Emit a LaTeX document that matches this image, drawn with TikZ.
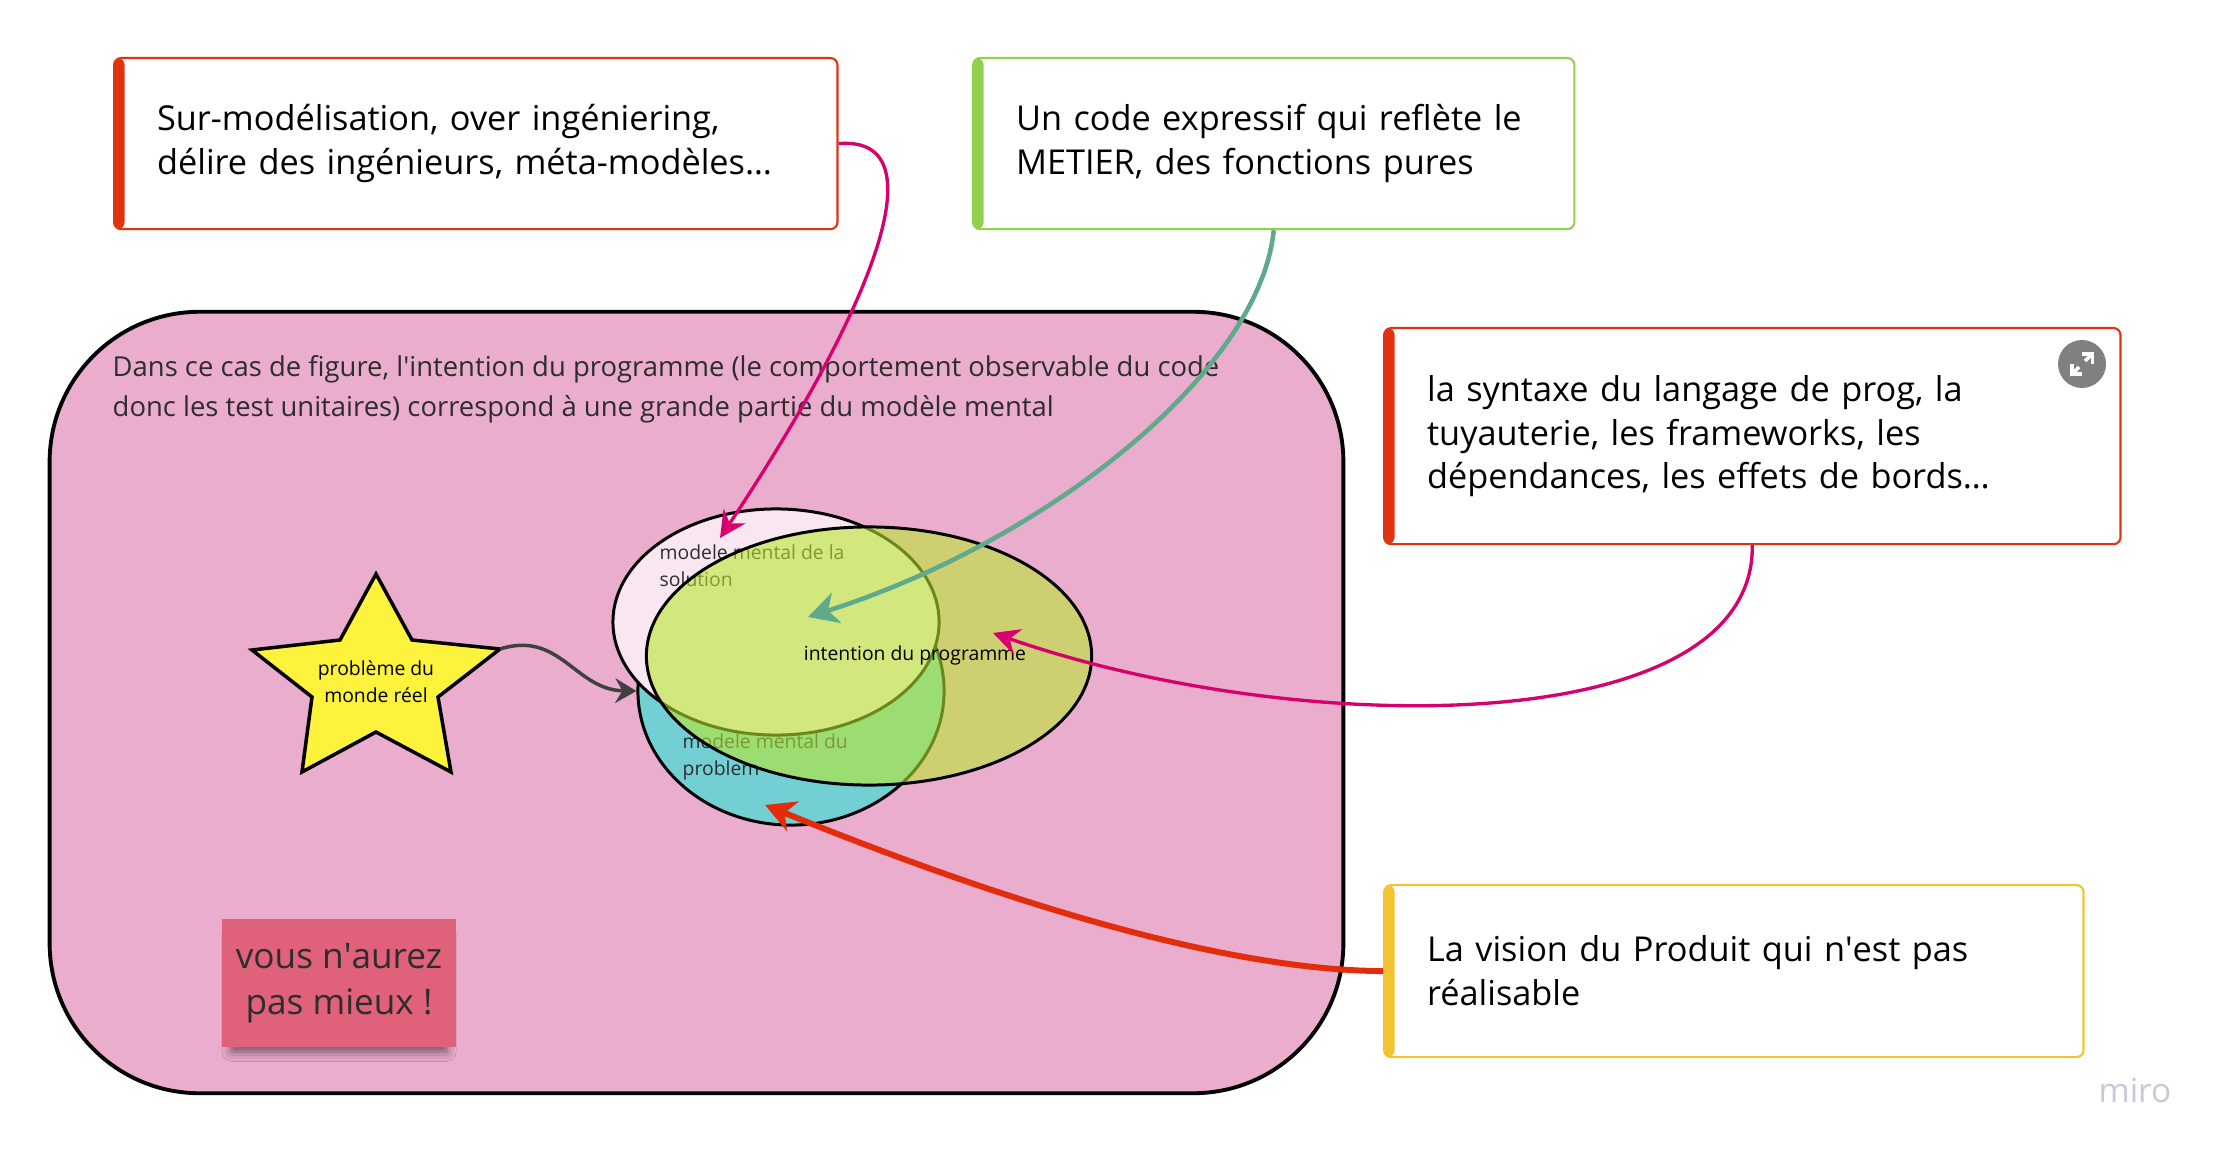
\documentclass[tikz,border=0pt]{standalone}
\usepackage{fontspec}
\setmainfont{Open Sans}
\usetikzlibrary{shapes.geometric,arrows.meta,shadows.blur}

\definecolor{rosefond}{RGB}{234,173,205}
\definecolor{rougecarte}{RGB}{224,52,16}
\definecolor{vertcarte}{RGB}{143,209,79}
\definecolor{jaunecarte}{RGB}{242,196,50}
\definecolor{fuchsia}{RGB}{214,0,110}
\definecolor{sarcelle}{RGB}{96,170,140}
\definecolor{rougefleche}{RGB}{226,44,12}
\definecolor{postit}{RGB}{223,97,122}
\definecolor{jauneetoile}{RGB}{253,242,60}
\definecolor{cyanpb}{RGB}{114,208,213}
\definecolor{rosesol}{RGB}{248,231,241}
\definecolor{vertint}{RGB}{185,232,45}
\definecolor{gristexte}{RGB}{45,45,45}
\definecolor{grismiro}{RGB}{200,200,214}

\newcommand{\apos}{\textquotesingle}

\tikzset{
  carte/.style={draw=#1, line width=0.6pt, rounded corners=2pt, anchor=north west,
    inner xsep=0.43cm, align=left, font=\fontsize{9.75}{12.5}\selectfont,
    path picture={\fill[#1] (path picture bounding box.north west)
      rectangle ([xshift=3pt]path picture bounding box.south west);}},
  bulle/.style={ellipse, draw=black, line width=0.85pt, inner sep=0pt},
  petit/.style={text=gristexte, font=\fontsize{5.5}{7.7}\selectfont},
  lienrose/.style={draw=fuchsia, line width=0.95pt,
    -{Stealth[length=7.5pt,width=7.5pt,inset=2.5pt]}},
}

\begin{document}
\begin{tikzpicture}[x=0.01cm, y=-0.01cm]
  \useasboundingbox[fill=white] (0,0) rectangle (2222,1152);

  % cadre rose
  \node[draw=black, line width=1.1pt, fill=rosefond, rounded corners=1.5cm,
    minimum width=12.93cm, minimum height=7.81cm] (cadre) at (696.5,702.5) {};
  \node[anchor=west, align=left, inner sep=0pt, text=gristexte, font=\fontsize{7.8}{11.3}\selectfont]
    (intro) at (112,389) {Dans ce cas de figure, l\apos intention du programme (le comportement observable du code\\
    donc les test unitaires) correspond à une grande partie du modèle mental};

  % etoile
  \coordinate (etoileD) at (500,649);
  \filldraw[fill=jauneetoile, draw=black, line width=1pt, line join=miter]
    (376,574) -- (412,640) -- (etoileD) -- (438,697) -- (451,772) -- (376,732)
    -- (302,772) -- (312,697) -- (252,650) -- (340,640) -- cycle;
  \node[petit, text=black, align=center] (probleme) at (376,682) {problème du\\monde réel};

  % post-it
  \node[fill=postit, minimum width=2.335cm, minimum height=1.28cm, align=center,
    font=\fontsize{10}{12.9}\selectfont, text=gristexte,
    blur shadow={shadow xshift=0pt, shadow yshift=-3pt, shadow scale=0.92,
      shadow blur radius=3pt, shadow opacity=55}]
    (mieux) at (339,983) {vous n\apos aurez\\pas mieux !};

  % ellipses
  \node[bulle, fill=cyanpb, minimum width=3.06cm, minimum height=2.68cm] (pb) at (791,691) {};
  \node[bulle, fill=rosesol, minimum width=3.26cm, minimum height=2.26cm] (sol) at (776,622) {};
  \node[petit, anchor=west, align=left, inner sep=0pt] (solLbl) at (659,566) {modele mental de la\\solution};
  \node[petit, anchor=west, align=left, inner sep=0pt] (pbLbl) at (682,757) {modele mental du\\problem};
  \node[bulle, fill=vertint, fill opacity=0.58, minimum width=4.45cm, minimum height=2.58cm]
    (int) at (869,656) {};
  \node[petit, text=black] (intLbl) at (915,655) {intention du programme};

  % cartes
  \node[carte=rougecarte, text width=6.37cm, minimum height=1.71cm] (sur) at (113,57)
    {Sur-modélisation, over ingéniering,\\délire des ingénieurs, méta-modèles…};
  \node[carte=vertcarte, text width=5.15cm, minimum height=1.71cm] (metier) at (972,57)
    {Un code expressif qui reflète le\\METIER, des fonctions pures};
  \node[carte=rougecarte, text width=6.50cm, minimum height=2.16cm] (syntaxe) at (1383,327)
    {la syntaxe du langage de prog, la\\tuyauterie, les frameworks, les\\dépendances, les effets de bords…};
  \node[carte=jaunecarte, text width=6.13cm, minimum height=1.72cm] (vision) at (1383,884)
    {La vision du Produit qui n\apos est pas\\réalisable};

  % bouton agrandir
  \fill[gray] (2082,364) circle (24);
  \draw[white, line width=1pt, -{Straight Barb[length=2pt,width=4pt]}] (2085,361) -- (2094,352);
  \draw[white, line width=1pt, -{Straight Barb[length=2pt,width=4pt]}] (2079,367) -- (2070,376);

  % fleches
  \coordinate (solCible) at (720,538);
  \coordinate (intCible) at (808,617);
  \coordinate (progCible) at (993,633);
  \coordinate (pbCible) at (765,805);
  \draw[lienrose] (sur.east) .. controls (945,135) and (865,320) .. (solCible);
  \draw[draw=sarcelle, line width=1.3pt, -{Stealth[length=8.5pt,width=9pt,inset=2.5pt]}]
    (metier.south) .. controls (1260,370) and (1050,540) .. (intCible);
  \draw[lienrose] (syntaxe.south) .. controls (1755,740) and (1300,740) .. (progCible);
  \draw[draw=rougefleche, line width=1.7pt, -{Stealth[length=8.5pt,width=9pt,inset=2.5pt]}]
    (vision.west) .. controls (1200,970) and (950,880) .. (pbCible);
  \draw[draw=black!75, line width=1pt, -{Stealth[length=6pt,width=7pt,inset=2pt]}]
    (etoileD) .. controls (560,630) and (575,690) .. (pb.west);

  % logo
  \node[text=grismiro, font=\fontsize{9.5}{9.5}\selectfont] (logo) at (2135,1090) {miro};
\end{tikzpicture}
\end{document}
